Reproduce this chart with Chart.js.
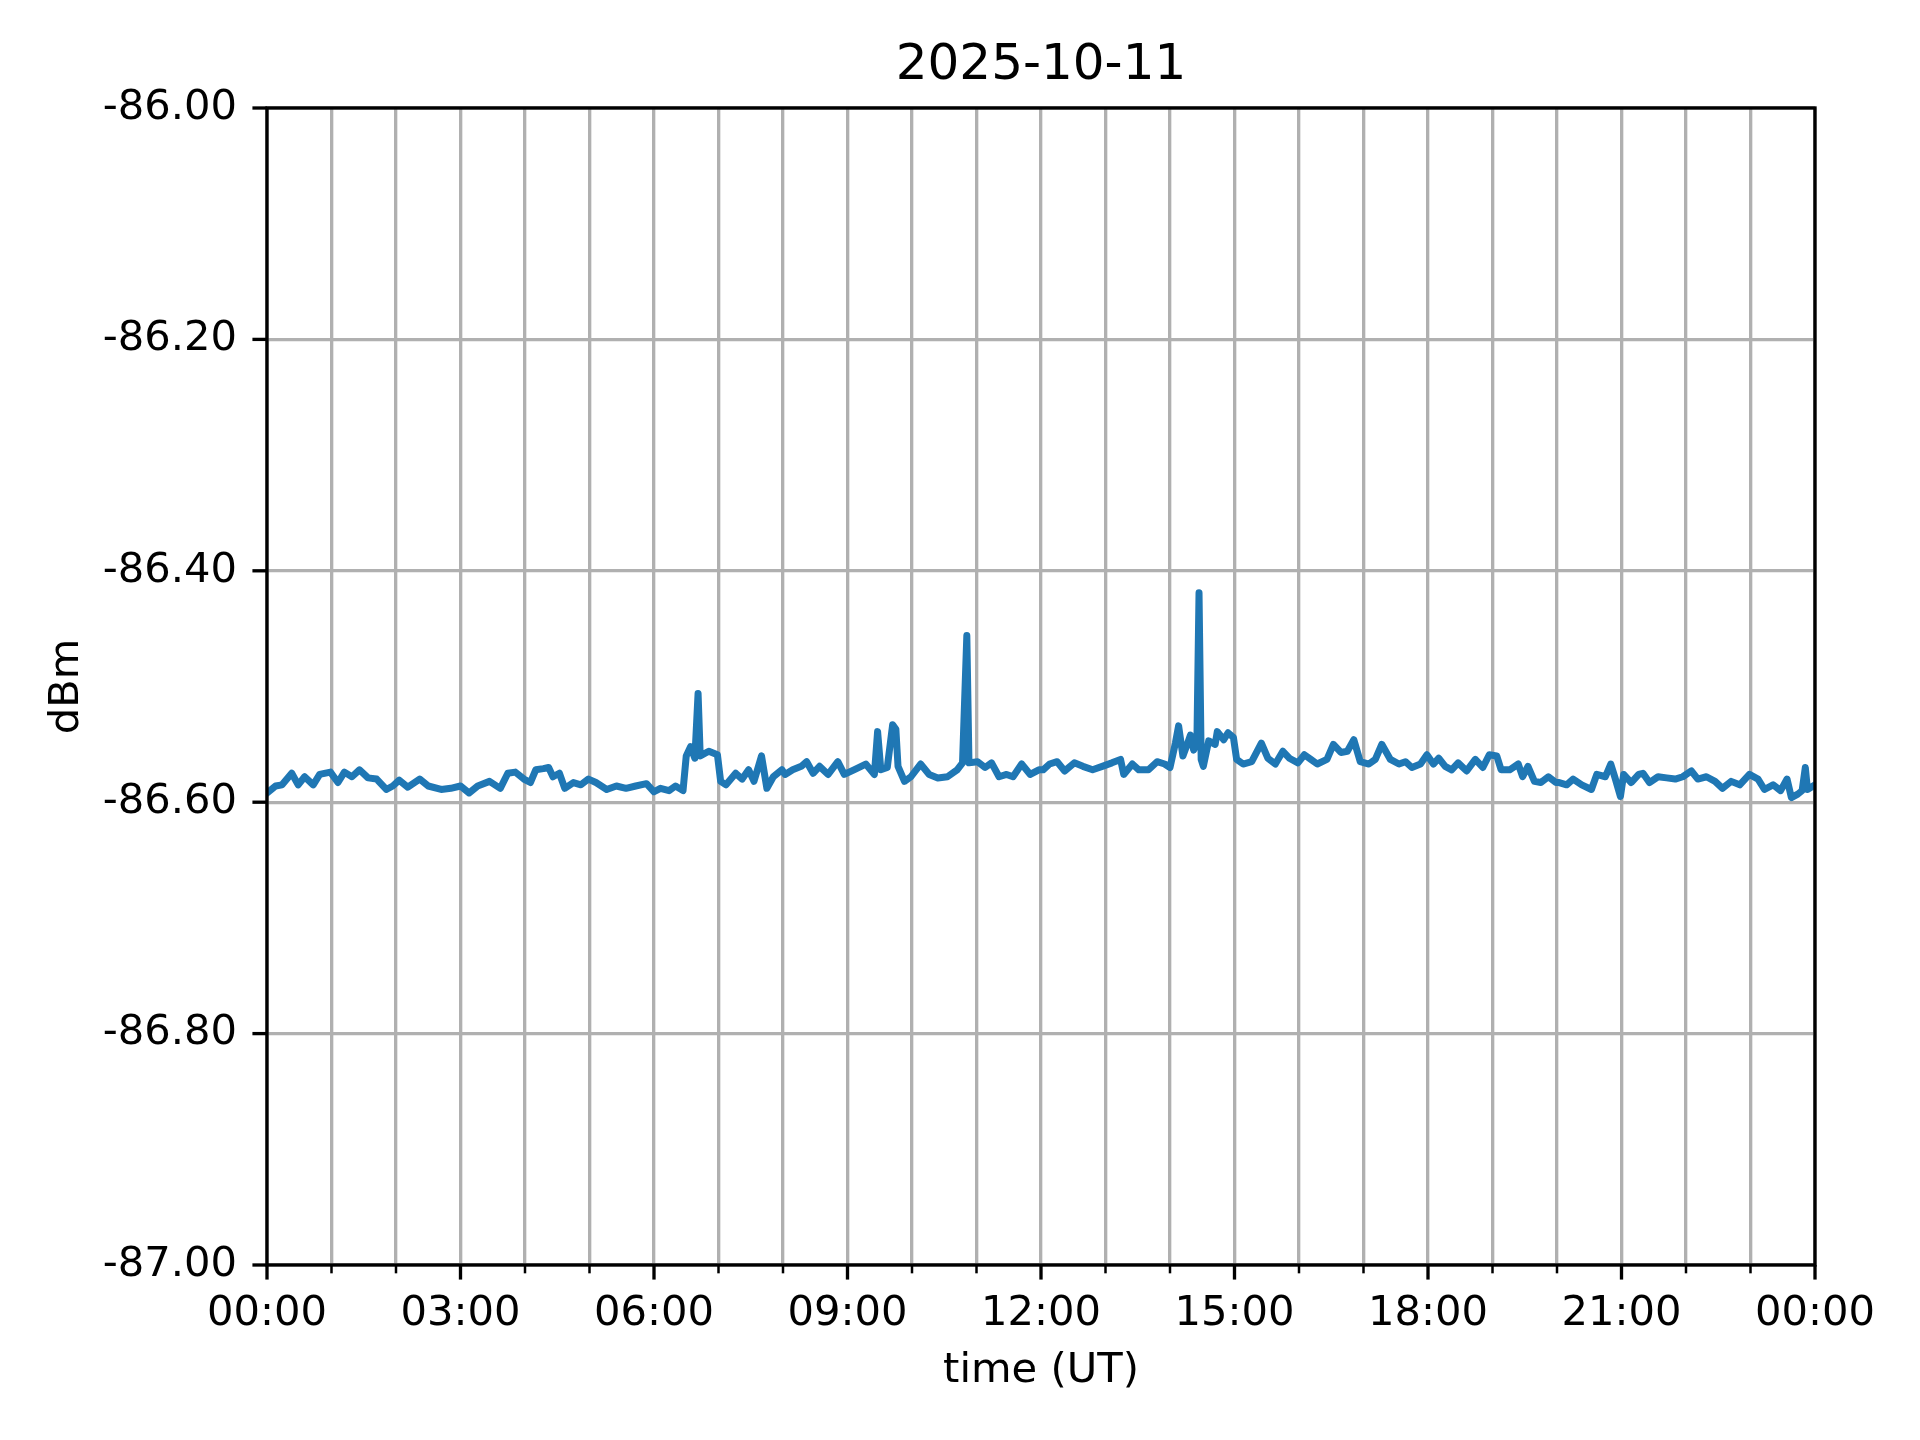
<!DOCTYPE html>
<html>
<head>
<meta charset="utf-8">
<script src="https://cdn.jsdelivr.net/npm/chart.js@4/dist/chart.umd.min.js"></script>
<style>
  html, body { margin: 0; padding: 0; background: #ffffff; }
  #wrap { width: 1920px; height: 1440px; }
  canvas { display: block; }
</style>
</head>
<body>
<div id="wrap"><canvas id="c" width="1920" height="1440"></canvas></div>
<script>
// ---- data ----
const chartTitle = "2025-10-11";
const xAxisTitle = "time (UT)";
const yAxisTitle = "dBm";

// time of day in minutes (UT)
const minutes = [
  0, 8, 14, 23, 29, 35, 43, 49, 59, 66, 72, 79, 86, 94, 102, 111, 117, 123, 131, 142,
  150, 162, 171, 180, 188, 196, 207, 217, 224, 231, 239,
  245, 250, 257, 262, 266, 272, 277, 285, 292, 299, 306, 316, 325, 334, 343, 353, 360,
  366, 374, 380, 387, 390, 394, 398, 401, 403, 411, 419, 422, 427, 436, 442, 448, 453,
  460, 465, 471, 479,
  482, 489, 497, 502, 508, 514, 522, 531, 537, 546, 557, 565, 568, 571, 577, 582, 585,
  587, 593, 599, 608, 616, 624, 633, 642, 647, 651, 653, 661, 668, 674, 681, 688, 694,
  702, 710, 718,
  722, 728, 735, 742, 751, 759, 768, 777, 786, 794, 797, 805, 811, 820, 828, 835, 840,
  845, 848, 852, 856, 859, 862, 865, 867, 869, 871, 876, 882, 884, 890, 894, 899, 902,
  908, 916, 925, 931, 938, 945, 951, 959,
  965, 971, 977, 986, 992, 999, 1005, 1011, 1017, 1025, 1031, 1037, 1045, 1053, 1059,
  1065, 1073, 1079, 1085, 1090, 1096, 1102, 1108, 1116, 1124, 1131, 1137, 1144, 1148,
  1156, 1164, 1168, 1173, 1179, 1185, 1192, 1199,
  1202, 1209, 1215, 1223, 1232, 1237, 1245, 1250, 1254, 1259, 1262, 1269, 1276, 1280,
  1286, 1294, 1302, 1310, 1317, 1325, 1331, 1339, 1347, 1354, 1362, 1370, 1379, 1387,
  1393, 1401, 1408, 1414, 1418, 1424, 1428, 1431, 1433, 1440
];

// received power in dBm
const dbm = [
  -86.592, -86.586, -86.585, -86.575, -86.585, -86.578, -86.585, -86.576, -86.574, -86.583,
  -86.574, -86.578, -86.572, -86.579, -86.580, -86.589, -86.586, -86.581, -86.587, -86.580,
  -86.586, -86.589, -86.588, -86.586, -86.592, -86.586, -86.582, -86.588, -86.575, -86.574,
  -86.580,
  -86.583, -86.572, -86.571, -86.570, -86.578, -86.575, -86.588, -86.583, -86.585, -86.580,
  -86.583, -86.589, -86.586, -86.588, -86.586, -86.584, -86.591, -86.588, -86.590, -86.586,
  -86.590, -86.560, -86.552, -86.562, -86.506, -86.560, -86.556, -86.559, -86.582, -86.585,
  -86.575, -86.580, -86.572, -86.582, -86.560, -86.588, -86.578, -86.572,
  -86.576, -86.572, -86.569, -86.565, -86.575, -86.569, -86.576, -86.565, -86.576, -86.572,
  -86.567, -86.576, -86.539, -86.572, -86.570, -86.533, -86.537, -86.569, -86.582, -86.578,
  -86.567, -86.576, -86.579, -86.578, -86.572, -86.566, -86.456, -86.566, -86.565, -86.570,
  -86.566, -86.578, -86.576, -86.578, -86.567, -86.576, -86.572,
  -86.572, -86.567, -86.565, -86.573, -86.566, -86.569, -86.572, -86.569, -86.566, -86.563,
  -86.576, -86.567, -86.572, -86.572, -86.565, -86.567, -86.570, -86.549, -86.534, -86.560,
  -86.550, -86.542, -86.555, -86.549, -86.419, -86.563, -86.569, -86.547, -86.550, -86.539,
  -86.546, -86.540, -86.544, -86.563, -86.567, -86.565, -86.549, -86.562, -86.567, -86.556,
  -86.562, -86.566,
  -86.559, -86.563, -86.567, -86.563, -86.550, -86.557, -86.556, -86.546, -86.565, -86.567,
  -86.563, -86.550, -86.563, -86.567, -86.565, -86.570, -86.567, -86.559, -86.567, -86.562,
  -86.569, -86.572, -86.566, -86.573, -86.563, -86.570, -86.559, -86.560, -86.572, -86.572,
  -86.567, -86.578, -86.569, -86.582, -86.583, -86.578, -86.583,
  -86.583, -86.585, -86.580, -86.585, -86.589, -86.576, -86.578, -86.567, -86.579, -86.595,
  -86.576, -86.583, -86.576, -86.575, -86.583, -86.578, -86.579, -86.580, -86.578, -86.573,
  -86.580, -86.578, -86.582, -86.588, -86.582, -86.585, -86.576, -86.580, -86.589, -86.585,
  -86.590, -86.580, -86.596, -86.593, -86.590, -86.570, -86.589, -86.585
];

// axis ranges / tick spacing
const xMin = 0, xMax = 1440, xStep = 60, xLabelEvery = 180;
const yMin = -87.0, yMax = -86.0, yStep = 0.2;

// ---- chart ----
const FONT = "'DejaVu Sans', 'Liberation Sans', sans-serif";
const points = minutes.map((m, i) => ({ x: m, y: dbm[i] }));

function hhmm(v) {
  const m = Math.round(v);
  const h = Math.floor(m / 60) % 24;
  const mm = m % 60;
  return String(h).padStart(2, '0') + ':' + String(mm).padStart(2, '0');
}

const axisDecor = {
  id: 'axisDecor',
  afterDatasetsDraw(chart) {
    const { ctx, chartArea: a, scales: { x, y } } = chart;
    ctx.save();
    ctx.strokeStyle = '#000000';
    ctx.lineCap = 'butt';
    x.ticks.forEach(t => {
      const v = Math.round(t.value);
      const px = x.getPixelForValue(v);
      const major = v % xLabelEvery === 0;
      ctx.lineWidth = major ? 3.33 : 2.5;
      ctx.beginPath();
      ctx.moveTo(px, a.bottom);
      ctx.lineTo(px, a.bottom + (major ? 14.58 : 8.33));
      ctx.stroke();
    });
    y.ticks.forEach(t => {
      const py = y.getPixelForValue(t.value);
      ctx.lineWidth = 3.33;
      ctx.beginPath();
      ctx.moveTo(a.left, py);
      ctx.lineTo(a.left - 14.58, py);
      ctx.stroke();
    });
    ctx.lineWidth = 3.33;
    ctx.lineJoin = 'miter';
    ctx.strokeRect(a.left, a.top, a.right - a.left, a.bottom - a.top);
    // title centred over the plot area
    ctx.fillStyle = '#000000';
    ctx.font = "50px " + FONT;
    ctx.textAlign = 'center';
    ctx.textBaseline = 'middle';
    ctx.fillText(chartTitle, (a.left + a.right) / 2, 66);
    ctx.restore();
  }
};

new Chart(document.getElementById('c'), {
  type: 'line',
  data: {
    datasets: [{
      data: points,
      borderColor: '#1f77b4',
      borderWidth: 7,
      pointRadius: 0,
      tension: 0,
      fill: false,
      borderJoinStyle: 'round',
      borderCapStyle: 'square'
    }]
  },
  options: {
    responsive: false,
    animation: false,
    devicePixelRatio: 1,
    layout: { padding: { left: 0, right: 105, top: 108, bottom: 0 } },
    plugins: {
      legend: { display: false },
      tooltip: { enabled: false },
      title: { display: false }
    },
    scales: {
      x: {
        type: 'linear',
        min: xMin,
        max: xMax,
        afterFit(scale) { scale.height = 175; },
        afterBuildTicks(scale) {
          const t = [];
          for (let v = xMin; v <= xMax; v += xStep) t.push({ value: v });
          scale.ticks = t;
        },
        border: { display: false },
        grid: {
          color: '#b0b0b0',
          lineWidth: 3.33,
          drawTicks: false
        },
        ticks: {
          autoSkip: false,
          maxRotation: 0,
          minRotation: 0,
          padding: 24,
          color: '#000000',
          font: { family: FONT, size: 41.67 },
          callback: (v) => (Math.round(v) % xLabelEvery === 0 ? hhmm(v) : '')
        },
        title: {
          display: true,
          text: xAxisTitle,
          color: '#000000',
          font: { family: FONT, size: 41.67, lineHeight: 1.2 },
          padding: { top: 0, bottom: 44 }
        }
      },
      y: {
        type: 'linear',
        min: yMin,
        max: yMax,
        afterFit(scale) { scale.width = 267; },
        afterBuildTicks(scale) {
          const t = [];
          for (let i = 0; yMin + i * yStep <= yMax + 1e-9; i++) t.push({ value: +(yMin + i * yStep).toFixed(2) });
          scale.ticks = t;
        },
        border: { display: false },
        grid: {
          color: '#b0b0b0',
          lineWidth: 3.33,
          drawTicks: false
        },
        ticks: {
          padding: 30,
          color: '#000000',
          font: { family: FONT, size: 41.67 },
          callback: (v) => Number(v).toFixed(2)
        },
        title: {
          display: true,
          text: yAxisTitle,
          color: '#000000',
          font: { family: FONT, size: 41.67, lineHeight: 1.2 },
          padding: { top: 42, bottom: 0 }
        }
      }
    }
  },
  plugins: [axisDecor]
});
</script>
</body>
</html>
